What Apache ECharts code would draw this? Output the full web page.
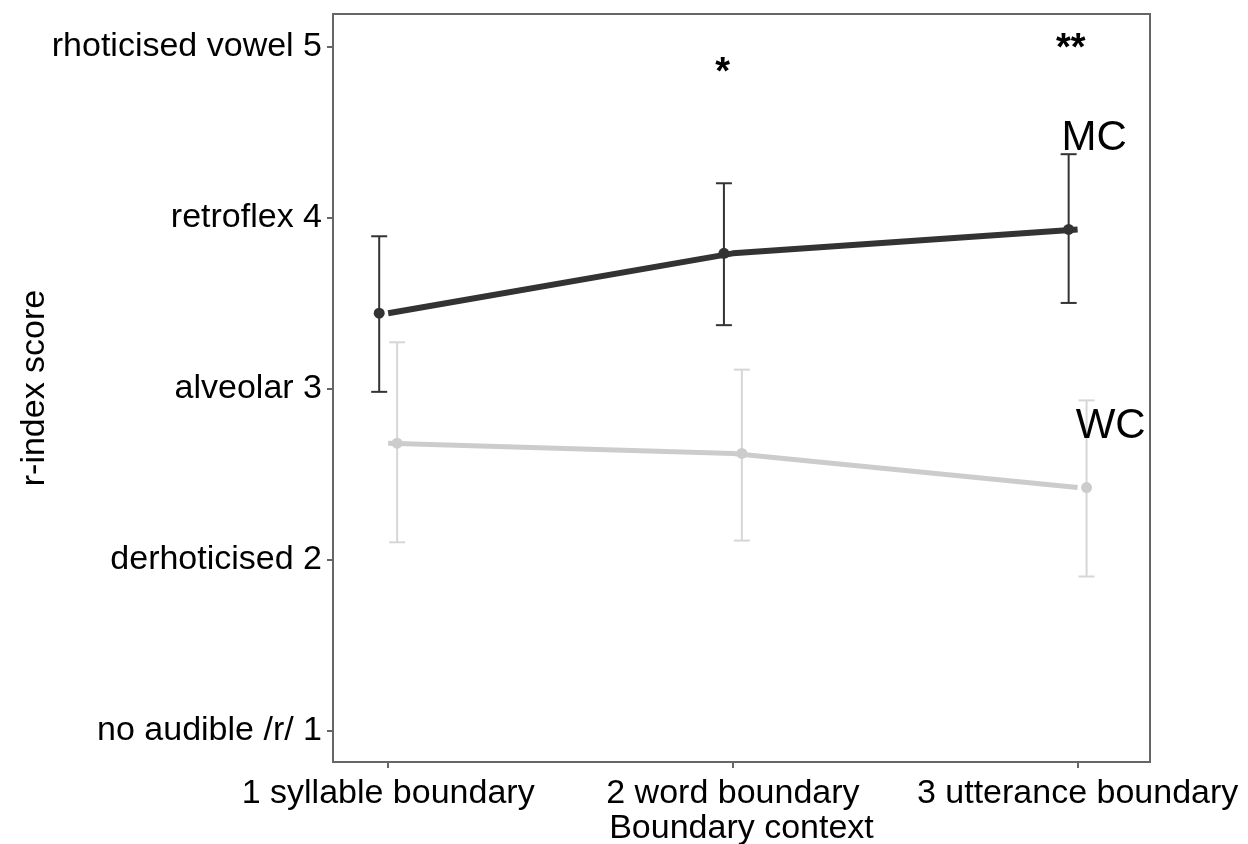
<!DOCTYPE html>
<html>
<head>
<meta charset="utf-8">
<script src="https://cdn.jsdelivr.net/npm/echarts@6/dist/echarts.min.js"></script>
<style>
  html, body { margin: 0; padding: 0; background: #fff; }
  #chart { width: 1248px; height: 844px; }
</style>
</head>
<body>
<div id="chart"></div>
<script>
// Boundary contexts along x (positions 1..3)
const contexts = ['1 syllable boundary', '2 word boundary', '3 utterance boundary'];
const contextPos = [1, 2, 3];

// r-index scale labels (y = 1..5)
const scoreTicks = [1, 2, 3, 4, 5];
const scoreLabels = ['no audible /r/ 1', 'derhoticised 2', 'alveolar 3', 'retroflex 4', 'rhoticised vowel 5'];

// Mean r-index per context with error-bar limits
const mcMean  = [3.44, 3.79, 3.93];
const mcLow   = [2.98, 3.37, 3.50];
const mcHigh  = [3.89, 4.20, 4.37];

const wcMean  = [2.68, 2.62, 2.42];
const wcLow   = [2.10, 2.11, 1.90];
const wcHigh  = [3.27, 3.11, 2.93];

// Significance markers and group labels [x, y, text]
const sigMarks    = [[1.97, 4.84, '*'], [2.98, 4.98, '**']];
const groupLabels = [[3.048, 4.46, 'MC'], [3.096, 2.78, 'WC']];

const dodge = 0.026;
const FONT = 'Liberation Sans, Arial, sans-serif';

function errorBars(means, lows, highs, offset) {
  return means.map((m, i) => [contextPos[i] + offset, lows[i], highs[i]]);
}

function errorRender(color) {
  return function (params, api) {
    const x = api.value(0);
    const lo = api.coord([x, api.value(1)]);
    const hi = api.coord([x, api.value(2)]);
    const half = 8;
    const style = { stroke: color, lineWidth: 2 };
    return {
      type: 'group',
      children: [
        { type: 'line', shape: { x1: lo[0], y1: lo[1], x2: hi[0], y2: hi[1] }, style },
        { type: 'line', shape: { x1: lo[0] - half, y1: lo[1], x2: lo[0] + half, y2: lo[1] }, style },
        { type: 'line', shape: { x1: hi[0] - half, y1: hi[1], x2: hi[0] + half, y2: hi[1] }, style }
      ]
    };
  };
}

function textMarks(items, size, weight) {
  return items.map(d => ({
    value: [d[0], d[1]],
    label: { show: true, position: 'inside', formatter: d[2], color: '#000000', opacity: 1,
             fontSize: size, fontWeight: weight, fontFamily: FONT }
  }));
}

const chart = echarts.init(document.getElementById('chart'), null, { renderer: 'canvas' });

const option = {
  animation: false,
  backgroundColor: '#ffffff',
  grid: {
    left: 333, right: 98, top: 14, bottom: 82,
    outerBoundsMode: 'none', containLabel: false,
    show: true, borderColor: '#666666', borderWidth: 2, backgroundColor: 'transparent'
  },
  xAxis: {
    type: 'value', min: 0.84, max: 3.21,
    splitLine: { show: false },
    axisLine: { show: false },
    axisTick: { show: true, length: 6, lineStyle: { color: '#666666', width: 2 }, customValues: contextPos },
    axisLabel: {
      customValues: contextPos, margin: 15,
      color: '#000', fontSize: 34, fontFamily: FONT,
      formatter: v => contexts[contextPos.indexOf(Math.round(v))] || ''
    },
    name: 'Boundary context', nameLocation: 'middle', nameGap: 50, nameMoveOverlap: false,
    nameTextStyle: { color: '#000', fontSize: 34, fontFamily: FONT }
  },
  yAxis: {
    type: 'value', min: 0.815, max: 5.19,
    splitLine: { show: false },
    axisLine: { show: false },
    axisTick: { show: true, length: 6, lineStyle: { color: '#666666', width: 2 }, customValues: scoreTicks },
    axisLabel: {
      customValues: scoreTicks, margin: 11,
      color: '#000', fontSize: 34, fontFamily: FONT,
      formatter: v => scoreLabels[scoreTicks.indexOf(Math.round(v))] || ''
    },
    name: 'r-index score', nameLocation: 'middle', nameRotate: 90, nameGap: 281, nameMoveOverlap: false,
    nameTextStyle: { color: '#000', fontSize: 34, fontFamily: FONT }
  },
  series: [
    {
      name: 'WC line', type: 'line', data: wcMean.map((m, i) => [contextPos[i], m]),
      showSymbol: false, lineStyle: { color: '#cccccc', width: 5 }, z: 2
    },
    {
      name: 'WC error', type: 'custom', renderItem: errorRender('#d6d6d6'),
      data: errorBars(wcMean, wcLow, wcHigh, dodge), z: 2
    },
    {
      name: 'WC', type: 'scatter', data: wcMean.map((m, i) => [contextPos[i] + dodge, m]),
      symbol: 'circle', symbolSize: 11, itemStyle: { color: '#cccccc', opacity: 1 }, z: 3
    },
    {
      name: 'MC line', type: 'line', data: mcMean.map((m, i) => [contextPos[i], m]),
      showSymbol: false, lineStyle: { color: '#333333', width: 6 }, z: 4
    },
    {
      name: 'MC error', type: 'custom', renderItem: errorRender('#333333'),
      data: errorBars(mcMean, mcLow, mcHigh, -dodge), z: 4
    },
    {
      name: 'MC', type: 'scatter', data: mcMean.map((m, i) => [contextPos[i] - dodge, m]),
      symbol: 'circle', symbolSize: 11, itemStyle: { color: '#333333', opacity: 1 }, z: 5
    },
    {
      name: 'significance', type: 'scatter', symbolSize: 0, z: 6,
      itemStyle: { color: '#000000', opacity: 1 },
      data: textMarks(sigMarks, 38, 'bold')
    },
    {
      name: 'groups', type: 'scatter', symbolSize: 0, z: 6,
      itemStyle: { color: '#000000', opacity: 1 },
      data: textMarks(groupLabels, 42, 'normal')
    }
  ]
};

chart.setOption(option);
</script>
</body>
</html>
